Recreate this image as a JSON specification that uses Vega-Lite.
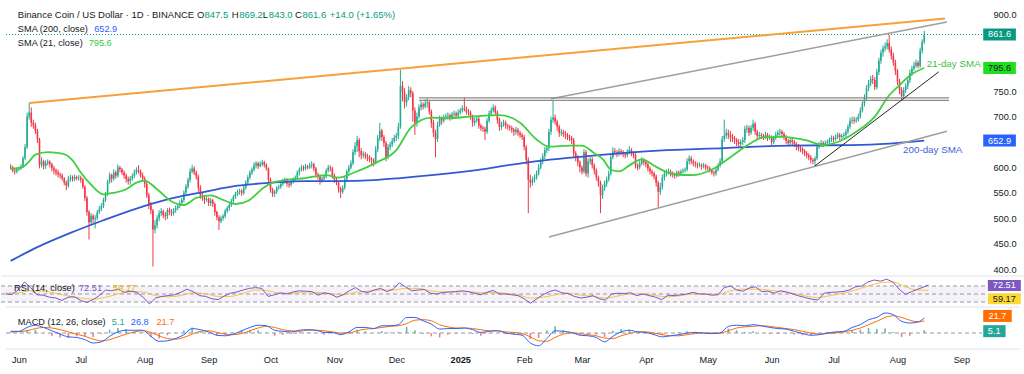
{
"$schema":"https://vega.github.io/schema/vega-lite/v6.json",
"background":"#ffffff",
"padding":0,
"spacing":0,
"config":{"view":{"stroke":null},"font":"Liberation Sans","concat":{"spacing":0},"axis":{"labelOverlap":false}},
"datasets":{
"candles":[
{"d":"2024-05-28","o":602,"h":606,"l":596,"c":600},{"d":"2024-05-29","o":600,"h":603,"l":590,"c":594},{"d":"2024-05-30","o":594,"h":598,"l":586,"c":592},{"d":"2024-05-31","o":592,"h":600,"l":588,"c":596},
{"d":"2024-06-01","o":596,"h":601,"l":593,"c":598},{"d":"2024-06-02","o":598,"h":606,"l":595,"c":602},{"d":"2024-06-03","o":602,"h":622,"l":599,"c":618},{"d":"2024-06-04","o":618,"h":646,"l":614,"c":640},{"d":"2024-06-05","o":640,"h":708,"l":636,"c":700},{"d":"2024-06-06","o":700,"h":727,"l":694,"c":708},{"d":"2024-06-07","o":708,"h":718,"l":680,"c":688},{"d":"2024-06-08","o":688,"h":694,"l":676,"c":683},{"d":"2024-06-09","o":683,"h":688,"l":666,"c":672},{"d":"2024-06-10","o":672,"h":676,"l":648,"c":655},{"d":"2024-06-11","o":655,"h":658,"l":598,"c":605},{"d":"2024-06-12","o":605,"h":620,"l":600,"c":612},{"d":"2024-06-13","o":612,"h":615,"l":596,"c":603},{"d":"2024-06-14","o":603,"h":614,"l":597,"c":608},{"d":"2024-06-15","o":608,"h":616,"l":604,"c":611},{"d":"2024-06-16","o":611,"h":614,"l":600,"c":606},{"d":"2024-06-17","o":606,"h":609,"l":592,"c":598},{"d":"2024-06-18","o":598,"h":603,"l":586,"c":594},{"d":"2024-06-19","o":594,"h":598,"l":584,"c":590},{"d":"2024-06-20","o":590,"h":596,"l":580,"c":586},{"d":"2024-06-21","o":586,"h":590,"l":578,"c":584},{"d":"2024-06-22","o":584,"h":588,"l":574,"c":578},{"d":"2024-06-23","o":578,"h":581,"l":565,"c":570},{"d":"2024-06-24","o":570,"h":574,"l":555,"c":564},{"d":"2024-06-25","o":564,"h":583,"l":560,"c":578},{"d":"2024-06-26","o":578,"h":585,"l":572,"c":580},{"d":"2024-06-27","o":580,"h":584,"l":572,"c":577},{"d":"2024-06-28","o":577,"h":586,"l":573,"c":581},{"d":"2024-06-29","o":581,"h":584,"l":575,"c":579},{"d":"2024-06-30","o":579,"h":585,"l":574,"c":580},
{"d":"2024-07-01","o":580,"h":584,"l":570,"c":576},{"d":"2024-07-02","o":576,"h":579,"l":558,"c":562},{"d":"2024-07-03","o":562,"h":565,"l":534,"c":540},{"d":"2024-07-04","o":540,"h":544,"l":505,"c":512},{"d":"2024-07-05","o":512,"h":516,"l":458,"c":492},{"d":"2024-07-06","o":492,"h":510,"l":486,"c":505},{"d":"2024-07-07","o":505,"h":508,"l":490,"c":498},{"d":"2024-07-08","o":498,"h":506,"l":480,"c":500},{"d":"2024-07-09","o":500,"h":516,"l":496,"c":512},{"d":"2024-07-10","o":512,"h":524,"l":508,"c":518},{"d":"2024-07-11","o":518,"h":530,"l":514,"c":524},{"d":"2024-07-12","o":524,"h":540,"l":520,"c":536},{"d":"2024-07-13","o":536,"h":552,"l":532,"c":548},{"d":"2024-07-14","o":548,"h":576,"l":544,"c":572},{"d":"2024-07-15","o":572,"h":590,"l":568,"c":585},{"d":"2024-07-16","o":585,"h":588,"l":570,"c":578},{"d":"2024-07-17","o":578,"h":596,"l":574,"c":590},{"d":"2024-07-18","o":590,"h":594,"l":578,"c":584},{"d":"2024-07-19","o":584,"h":606,"l":580,"c":600},{"d":"2024-07-20","o":600,"h":603,"l":590,"c":596},{"d":"2024-07-21","o":596,"h":599,"l":585,"c":590},{"d":"2024-07-22","o":590,"h":594,"l":578,"c":584},{"d":"2024-07-23","o":584,"h":588,"l":570,"c":577},{"d":"2024-07-24","o":577,"h":582,"l":566,"c":573},{"d":"2024-07-25","o":573,"h":583,"l":566,"c":578},{"d":"2024-07-26","o":578,"h":588,"l":574,"c":583},{"d":"2024-07-27","o":583,"h":596,"l":579,"c":590},{"d":"2024-07-28","o":590,"h":600,"l":586,"c":595},{"d":"2024-07-29","o":595,"h":604,"l":588,"c":592},{"d":"2024-07-30","o":592,"h":596,"l":580,"c":584},{"d":"2024-07-31","o":584,"h":590,"l":574,"c":578},
{"d":"2024-08-01","o":578,"h":582,"l":560,"c":568},{"d":"2024-08-02","o":568,"h":572,"l":540,"c":545},{"d":"2024-08-03","o":545,"h":550,"l":518,"c":525},{"d":"2024-08-04","o":525,"h":532,"l":508,"c":515},{"d":"2024-08-05","o":515,"h":518,"l":405,"c":478},{"d":"2024-08-06","o":478,"h":496,"l":470,"c":486},{"d":"2024-08-07","o":486,"h":506,"l":480,"c":500},{"d":"2024-08-08","o":500,"h":516,"l":494,"c":510},{"d":"2024-08-09","o":510,"h":520,"l":504,"c":514},{"d":"2024-08-10","o":514,"h":517,"l":500,"c":506},{"d":"2024-08-11","o":506,"h":512,"l":496,"c":504},{"d":"2024-08-12","o":504,"h":520,"l":498,"c":516},{"d":"2024-08-13","o":516,"h":521,"l":506,"c":512},{"d":"2024-08-14","o":512,"h":518,"l":504,"c":510},{"d":"2024-08-15","o":510,"h":520,"l":505,"c":515},{"d":"2024-08-16","o":515,"h":525,"l":511,"c":520},{"d":"2024-08-17","o":520,"h":528,"l":516,"c":524},{"d":"2024-08-18","o":524,"h":535,"l":520,"c":530},{"d":"2024-08-19","o":530,"h":540,"l":525,"c":536},{"d":"2024-08-20","o":536,"h":555,"l":531,"c":550},{"d":"2024-08-21","o":550,"h":567,"l":546,"c":562},{"d":"2024-08-22","o":562,"h":580,"l":558,"c":575},{"d":"2024-08-23","o":575,"h":598,"l":570,"c":592},{"d":"2024-08-24","o":592,"h":605,"l":588,"c":598},{"d":"2024-08-25","o":598,"h":602,"l":585,"c":590},{"d":"2024-08-26","o":590,"h":594,"l":576,"c":582},{"d":"2024-08-27","o":582,"h":586,"l":552,"c":560},{"d":"2024-08-28","o":560,"h":565,"l":538,"c":545},{"d":"2024-08-29","o":545,"h":550,"l":534,"c":540},{"d":"2024-08-30","o":540,"h":545,"l":528,"c":536},{"d":"2024-08-31","o":536,"h":543,"l":532,"c":538},
{"d":"2024-09-01","o":538,"h":541,"l":524,"c":530},{"d":"2024-09-02","o":530,"h":540,"l":524,"c":535},{"d":"2024-09-03","o":535,"h":538,"l":522,"c":528},{"d":"2024-09-04","o":528,"h":531,"l":505,"c":512},{"d":"2024-09-05","o":512,"h":515,"l":496,"c":502},{"d":"2024-09-06","o":502,"h":506,"l":477,"c":494},{"d":"2024-09-07","o":494,"h":505,"l":490,"c":500},{"d":"2024-09-08","o":500,"h":508,"l":495,"c":504},{"d":"2024-09-09","o":504,"h":518,"l":500,"c":514},{"d":"2024-09-10","o":514,"h":524,"l":510,"c":520},{"d":"2024-09-11","o":520,"h":530,"l":514,"c":526},{"d":"2024-09-12","o":526,"h":538,"l":522,"c":534},{"d":"2024-09-13","o":534,"h":546,"l":530,"c":542},{"d":"2024-09-14","o":542,"h":552,"l":538,"c":548},{"d":"2024-09-15","o":548,"h":556,"l":544,"c":552},{"d":"2024-09-16","o":552,"h":558,"l":546,"c":554},{"d":"2024-09-17","o":554,"h":557,"l":544,"c":550},{"d":"2024-09-18","o":550,"h":564,"l":546,"c":560},{"d":"2024-09-19","o":560,"h":575,"l":556,"c":570},{"d":"2024-09-20","o":570,"h":585,"l":566,"c":580},{"d":"2024-09-21","o":580,"h":594,"l":576,"c":590},{"d":"2024-09-22","o":590,"h":600,"l":585,"c":596},{"d":"2024-09-23","o":596,"h":610,"l":592,"c":604},{"d":"2024-09-24","o":604,"h":612,"l":598,"c":608},{"d":"2024-09-25","o":608,"h":611,"l":597,"c":603},{"d":"2024-09-26","o":603,"h":612,"l":600,"c":606},{"d":"2024-09-27","o":606,"h":615,"l":602,"c":610},{"d":"2024-09-28","o":610,"h":613,"l":600,"c":605},{"d":"2024-09-29","o":605,"h":608,"l":594,"c":598},{"d":"2024-09-30","o":598,"h":600,"l":570,"c":576},
{"d":"2024-10-01","o":576,"h":580,"l":550,"c":556},{"d":"2024-10-02","o":556,"h":560,"l":542,"c":548},{"d":"2024-10-03","o":548,"h":556,"l":542,"c":552},{"d":"2024-10-04","o":552,"h":563,"l":548,"c":560},{"d":"2024-10-05","o":560,"h":566,"l":556,"c":562},{"d":"2024-10-06","o":562,"h":572,"l":558,"c":568},{"d":"2024-10-07","o":568,"h":578,"l":564,"c":572},{"d":"2024-10-08","o":572,"h":580,"l":568,"c":576},{"d":"2024-10-09","o":576,"h":579,"l":562,"c":568},{"d":"2024-10-10","o":568,"h":572,"l":560,"c":566},{"d":"2024-10-11","o":566,"h":576,"l":562,"c":572},{"d":"2024-10-12","o":572,"h":580,"l":568,"c":576},{"d":"2024-10-13","o":576,"h":584,"l":572,"c":580},{"d":"2024-10-14","o":580,"h":594,"l":576,"c":590},{"d":"2024-10-15","o":590,"h":600,"l":584,"c":596},{"d":"2024-10-16","o":596,"h":605,"l":592,"c":600},{"d":"2024-10-17","o":600,"h":604,"l":593,"c":598},{"d":"2024-10-18","o":598,"h":607,"l":594,"c":602},{"d":"2024-10-19","o":602,"h":605,"l":596,"c":600},{"d":"2024-10-20","o":600,"h":609,"l":597,"c":604},{"d":"2024-10-21","o":604,"h":612,"l":598,"c":606},{"d":"2024-10-22","o":606,"h":609,"l":592,"c":598},{"d":"2024-10-23","o":598,"h":601,"l":580,"c":586},{"d":"2024-10-24","o":586,"h":590,"l":576,"c":582},{"d":"2024-10-25","o":582,"h":586,"l":566,"c":574},{"d":"2024-10-26","o":574,"h":582,"l":570,"c":578},{"d":"2024-10-27","o":578,"h":586,"l":574,"c":582},{"d":"2024-10-28","o":582,"h":598,"l":578,"c":594},{"d":"2024-10-29","o":594,"h":605,"l":590,"c":600},{"d":"2024-10-30","o":600,"h":604,"l":592,"c":598},{"d":"2024-10-31","o":598,"h":601,"l":578,"c":584},
{"d":"2024-11-01","o":584,"h":588,"l":570,"c":576},{"d":"2024-11-02","o":576,"h":580,"l":565,"c":570},{"d":"2024-11-03","o":570,"h":573,"l":550,"c":558},{"d":"2024-11-04","o":558,"h":562,"l":540,"c":552},{"d":"2024-11-05","o":552,"h":565,"l":548,"c":560},{"d":"2024-11-06","o":560,"h":582,"l":556,"c":576},{"d":"2024-11-07","o":576,"h":596,"l":572,"c":592},{"d":"2024-11-08","o":592,"h":605,"l":588,"c":600},{"d":"2024-11-09","o":600,"h":614,"l":596,"c":608},{"d":"2024-11-10","o":608,"h":636,"l":604,"c":630},{"d":"2024-11-11","o":630,"h":650,"l":624,"c":642},{"d":"2024-11-12","o":642,"h":662,"l":630,"c":654},{"d":"2024-11-13","o":654,"h":658,"l":620,"c":632},{"d":"2024-11-14","o":632,"h":638,"l":616,"c":624},{"d":"2024-11-15","o":624,"h":632,"l":618,"c":626},{"d":"2024-11-16","o":626,"h":630,"l":616,"c":622},{"d":"2024-11-17","o":622,"h":627,"l":612,"c":620},{"d":"2024-11-18","o":620,"h":624,"l":610,"c":616},{"d":"2024-11-19","o":616,"h":620,"l":606,"c":614},{"d":"2024-11-20","o":614,"h":618,"l":602,"c":610},{"d":"2024-11-21","o":610,"h":642,"l":606,"c":636},{"d":"2024-11-22","o":636,"h":664,"l":630,"c":658},{"d":"2024-11-23","o":658,"h":688,"l":652,"c":672},{"d":"2024-11-24","o":672,"h":676,"l":652,"c":660},{"d":"2024-11-25","o":660,"h":664,"l":640,"c":648},{"d":"2024-11-26","o":648,"h":652,"l":612,"c":620},{"d":"2024-11-27","o":620,"h":646,"l":616,"c":640},{"d":"2024-11-28","o":640,"h":650,"l":634,"c":645},{"d":"2024-11-29","o":645,"h":658,"l":640,"c":652},{"d":"2024-11-30","o":652,"h":664,"l":648,"c":658},
{"d":"2024-12-01","o":658,"h":668,"l":652,"c":662},{"d":"2024-12-02","o":662,"h":688,"l":656,"c":680},{"d":"2024-12-03","o":680,"h":793,"l":676,"c":760},{"d":"2024-12-04","o":760,"h":770,"l":730,"c":748},{"d":"2024-12-05","o":748,"h":756,"l":716,"c":728},{"d":"2024-12-06","o":728,"h":744,"l":720,"c":738},{"d":"2024-12-07","o":738,"h":760,"l":732,"c":752},{"d":"2024-12-08","o":752,"h":758,"l":738,"c":746},{"d":"2024-12-09","o":746,"h":750,"l":690,"c":712},{"d":"2024-12-10","o":712,"h":718,"l":664,"c":688},{"d":"2024-12-11","o":688,"h":708,"l":680,"c":700},{"d":"2024-12-12","o":700,"h":724,"l":696,"c":718},{"d":"2024-12-13","o":718,"h":730,"l":712,"c":724},{"d":"2024-12-14","o":724,"h":728,"l":714,"c":720},{"d":"2024-12-15","o":720,"h":734,"l":716,"c":726},{"d":"2024-12-16","o":726,"h":736,"l":718,"c":728},{"d":"2024-12-17","o":728,"h":732,"l":704,"c":710},{"d":"2024-12-18","o":710,"h":714,"l":678,"c":688},{"d":"2024-12-19","o":688,"h":694,"l":660,"c":668},{"d":"2024-12-20","o":668,"h":674,"l":620,"c":656},{"d":"2024-12-21","o":656,"h":690,"l":650,"c":684},{"d":"2024-12-22","o":684,"h":702,"l":680,"c":696},{"d":"2024-12-23","o":696,"h":700,"l":684,"c":692},{"d":"2024-12-24","o":692,"h":704,"l":688,"c":698},{"d":"2024-12-25","o":698,"h":706,"l":694,"c":700},{"d":"2024-12-26","o":700,"h":708,"l":694,"c":702},{"d":"2024-12-27","o":702,"h":706,"l":692,"c":698},{"d":"2024-12-28","o":698,"h":709,"l":694,"c":704},{"d":"2024-12-29","o":704,"h":712,"l":698,"c":706},{"d":"2024-12-30","o":706,"h":710,"l":696,"c":702},{"d":"2024-12-31","o":702,"h":714,"l":698,"c":708},
{"d":"2025-01-01","o":708,"h":717,"l":704,"c":712},{"d":"2025-01-02","o":712,"h":722,"l":708,"c":716},{"d":"2025-01-03","o":716,"h":738,"l":710,"c":714},{"d":"2025-01-04","o":714,"h":720,"l":704,"c":710},{"d":"2025-01-05","o":710,"h":715,"l":702,"c":708},{"d":"2025-01-06","o":708,"h":712,"l":694,"c":700},{"d":"2025-01-07","o":700,"h":704,"l":680,"c":688},{"d":"2025-01-08","o":688,"h":698,"l":682,"c":692},{"d":"2025-01-09","o":692,"h":702,"l":688,"c":696},{"d":"2025-01-10","o":696,"h":700,"l":676,"c":682},{"d":"2025-01-11","o":682,"h":686,"l":672,"c":678},{"d":"2025-01-12","o":678,"h":682,"l":670,"c":676},{"d":"2025-01-13","o":676,"h":680,"l":654,"c":670},{"d":"2025-01-14","o":670,"h":697,"l":666,"c":692},{"d":"2025-01-15","o":692,"h":712,"l":688,"c":706},{"d":"2025-01-16","o":706,"h":718,"l":702,"c":712},{"d":"2025-01-17","o":712,"h":724,"l":708,"c":718},{"d":"2025-01-18","o":718,"h":722,"l":702,"c":708},{"d":"2025-01-19","o":708,"h":712,"l":686,"c":694},{"d":"2025-01-20","o":694,"h":698,"l":672,"c":680},{"d":"2025-01-21","o":680,"h":690,"l":674,"c":684},{"d":"2025-01-22","o":684,"h":694,"l":680,"c":688},{"d":"2025-01-23","o":688,"h":692,"l":676,"c":682},{"d":"2025-01-24","o":682,"h":686,"l":674,"c":680},{"d":"2025-01-25","o":680,"h":684,"l":672,"c":678},{"d":"2025-01-26","o":678,"h":682,"l":668,"c":674},{"d":"2025-01-27","o":674,"h":678,"l":662,"c":670},{"d":"2025-01-28","o":670,"h":680,"l":664,"c":674},{"d":"2025-01-29","o":674,"h":678,"l":662,"c":668},{"d":"2025-01-30","o":668,"h":672,"l":658,"c":664},{"d":"2025-01-31","o":664,"h":668,"l":654,"c":660},
{"d":"2025-02-01","o":660,"h":664,"l":634,"c":640},{"d":"2025-02-02","o":640,"h":644,"l":606,"c":615},{"d":"2025-02-03","o":615,"h":620,"l":510,"c":576},{"d":"2025-02-04","o":576,"h":586,"l":560,"c":570},{"d":"2025-02-05","o":570,"h":582,"l":564,"c":575},{"d":"2025-02-06","o":575,"h":586,"l":570,"c":580},{"d":"2025-02-07","o":580,"h":594,"l":576,"c":588},{"d":"2025-02-08","o":588,"h":606,"l":584,"c":600},{"d":"2025-02-09","o":600,"h":618,"l":596,"c":612},{"d":"2025-02-10","o":612,"h":628,"l":606,"c":622},{"d":"2025-02-11","o":622,"h":640,"l":616,"c":634},{"d":"2025-02-12","o":634,"h":644,"l":628,"c":638},{"d":"2025-02-13","o":638,"h":676,"l":632,"c":670},{"d":"2025-02-14","o":670,"h":700,"l":664,"c":694},{"d":"2025-02-15","o":694,"h":733,"l":688,"c":698},{"d":"2025-02-16","o":698,"h":704,"l":684,"c":690},{"d":"2025-02-17","o":690,"h":694,"l":672,"c":680},{"d":"2025-02-18","o":680,"h":684,"l":660,"c":668},{"d":"2025-02-19","o":668,"h":676,"l":662,"c":670},{"d":"2025-02-20","o":670,"h":674,"l":660,"c":666},{"d":"2025-02-21","o":666,"h":672,"l":656,"c":664},{"d":"2025-02-22","o":664,"h":668,"l":654,"c":660},{"d":"2025-02-23","o":660,"h":664,"l":652,"c":658},{"d":"2025-02-24","o":658,"h":662,"l":646,"c":654},{"d":"2025-02-25","o":654,"h":658,"l":620,"c":628},{"d":"2025-02-26","o":628,"h":632,"l":612,"c":620},{"d":"2025-02-27","o":620,"h":624,"l":602,"c":610},{"d":"2025-02-28","o":610,"h":614,"l":590,"c":600},
{"d":"2025-03-01","o":600,"h":604,"l":586,"c":592},{"d":"2025-03-02","o":592,"h":636,"l":588,"c":630},{"d":"2025-03-03","o":630,"h":634,"l":582,"c":588},{"d":"2025-03-04","o":588,"h":618,"l":580,"c":612},{"d":"2025-03-05","o":612,"h":622,"l":606,"c":616},{"d":"2025-03-06","o":616,"h":620,"l":598,"c":604},{"d":"2025-03-07","o":604,"h":608,"l":586,"c":594},{"d":"2025-03-08","o":594,"h":598,"l":574,"c":580},{"d":"2025-03-09","o":580,"h":584,"l":562,"c":570},{"d":"2025-03-10","o":570,"h":574,"l":510,"c":545},{"d":"2025-03-11","o":545,"h":566,"l":538,"c":560},{"d":"2025-03-12","o":560,"h":574,"l":554,"c":568},{"d":"2025-03-13","o":568,"h":582,"l":562,"c":576},{"d":"2025-03-14","o":576,"h":594,"l":572,"c":588},{"d":"2025-03-15","o":588,"h":626,"l":584,"c":620},{"d":"2025-03-16","o":620,"h":640,"l":616,"c":632},{"d":"2025-03-17","o":632,"h":638,"l":624,"c":630},{"d":"2025-03-18","o":630,"h":634,"l":620,"c":628},{"d":"2025-03-19","o":628,"h":638,"l":622,"c":632},{"d":"2025-03-20","o":632,"h":636,"l":624,"c":630},{"d":"2025-03-21","o":630,"h":634,"l":620,"c":626},{"d":"2025-03-22","o":626,"h":630,"l":618,"c":624},{"d":"2025-03-23","o":624,"h":636,"l":620,"c":630},{"d":"2025-03-24","o":630,"h":642,"l":626,"c":634},{"d":"2025-03-25","o":634,"h":638,"l":622,"c":628},{"d":"2025-03-26","o":628,"h":632,"l":618,"c":624},{"d":"2025-03-27","o":624,"h":628,"l":598,"c":604},{"d":"2025-03-28","o":604,"h":608,"l":594,"c":600},{"d":"2025-03-29","o":600,"h":614,"l":596,"c":608},{"d":"2025-03-30","o":608,"h":620,"l":604,"c":614},{"d":"2025-03-31","o":614,"h":618,"l":604,"c":610},
{"d":"2025-04-01","o":610,"h":614,"l":600,"c":606},{"d":"2025-04-02","o":606,"h":610,"l":592,"c":598},{"d":"2025-04-03","o":598,"h":602,"l":586,"c":592},{"d":"2025-04-04","o":592,"h":596,"l":582,"c":588},{"d":"2025-04-05","o":588,"h":592,"l":576,"c":582},{"d":"2025-04-06","o":582,"h":586,"l":562,"c":570},{"d":"2025-04-07","o":570,"h":574,"l":522,"c":552},{"d":"2025-04-08","o":552,"h":570,"l":546,"c":562},{"d":"2025-04-09","o":562,"h":586,"l":556,"c":580},{"d":"2025-04-10","o":580,"h":594,"l":574,"c":588},{"d":"2025-04-11","o":588,"h":596,"l":582,"c":590},{"d":"2025-04-12","o":590,"h":598,"l":586,"c":592},{"d":"2025-04-13","o":592,"h":596,"l":582,"c":588},{"d":"2025-04-14","o":588,"h":592,"l":580,"c":586},{"d":"2025-04-15","o":586,"h":590,"l":578,"c":584},{"d":"2025-04-16","o":584,"h":594,"l":580,"c":590},{"d":"2025-04-17","o":590,"h":594,"l":582,"c":588},{"d":"2025-04-18","o":588,"h":596,"l":584,"c":592},{"d":"2025-04-19","o":592,"h":598,"l":588,"c":594},{"d":"2025-04-20","o":594,"h":600,"l":590,"c":596},{"d":"2025-04-21","o":596,"h":618,"l":592,"c":612},{"d":"2025-04-22","o":612,"h":624,"l":606,"c":618},{"d":"2025-04-23","o":618,"h":622,"l":606,"c":612},{"d":"2025-04-24","o":612,"h":616,"l":602,"c":608},{"d":"2025-04-25","o":608,"h":612,"l":600,"c":606},{"d":"2025-04-26","o":606,"h":610,"l":598,"c":604},{"d":"2025-04-27","o":604,"h":610,"l":600,"c":605},{"d":"2025-04-28","o":605,"h":608,"l":596,"c":602},{"d":"2025-04-29","o":602,"h":609,"l":598,"c":604},{"d":"2025-04-30","o":604,"h":607,"l":594,"c":600},
{"d":"2025-05-01","o":600,"h":604,"l":594,"c":598},{"d":"2025-05-02","o":598,"h":602,"l":590,"c":594},{"d":"2025-05-03","o":594,"h":597,"l":586,"c":590},{"d":"2025-05-04","o":590,"h":594,"l":582,"c":588},{"d":"2025-05-05","o":588,"h":600,"l":584,"c":596},{"d":"2025-05-06","o":596,"h":608,"l":592,"c":604},{"d":"2025-05-07","o":604,"h":618,"l":600,"c":612},{"d":"2025-05-08","o":612,"h":662,"l":608,"c":656},{"d":"2025-05-09","o":656,"h":694,"l":650,"c":662},{"d":"2025-05-10","o":662,"h":676,"l":656,"c":668},{"d":"2025-05-11","o":668,"h":674,"l":656,"c":664},{"d":"2025-05-12","o":664,"h":672,"l":650,"c":660},{"d":"2025-05-13","o":660,"h":666,"l":650,"c":658},{"d":"2025-05-14","o":658,"h":662,"l":646,"c":654},{"d":"2025-05-15","o":654,"h":658,"l":642,"c":650},{"d":"2025-05-16","o":650,"h":656,"l":640,"c":646},{"d":"2025-05-17","o":646,"h":655,"l":640,"c":650},{"d":"2025-05-18","o":650,"h":660,"l":644,"c":654},{"d":"2025-05-19","o":654,"h":682,"l":648,"c":676},{"d":"2025-05-20","o":676,"h":684,"l":668,"c":678},{"d":"2025-05-21","o":678,"h":682,"l":662,"c":668},{"d":"2025-05-22","o":668,"h":684,"l":664,"c":678},{"d":"2025-05-23","o":678,"h":694,"l":672,"c":686},{"d":"2025-05-24","o":686,"h":690,"l":664,"c":670},{"d":"2025-05-25","o":670,"h":674,"l":656,"c":662},{"d":"2025-05-26","o":662,"h":670,"l":656,"c":664},{"d":"2025-05-27","o":664,"h":668,"l":656,"c":662},{"d":"2025-05-28","o":662,"h":666,"l":654,"c":660},{"d":"2025-05-29","o":660,"h":670,"l":656,"c":664},{"d":"2025-05-30","o":664,"h":668,"l":652,"c":658},{"d":"2025-05-31","o":658,"h":665,"l":654,"c":660},
{"d":"2025-06-01","o":660,"h":663,"l":644,"c":650},{"d":"2025-06-02","o":650,"h":662,"l":646,"c":658},{"d":"2025-06-03","o":658,"h":670,"l":654,"c":664},{"d":"2025-06-04","o":664,"h":673,"l":660,"c":668},{"d":"2025-06-05","o":668,"h":676,"l":662,"c":670},{"d":"2025-06-06","o":670,"h":674,"l":660,"c":666},{"d":"2025-06-07","o":666,"h":670,"l":654,"c":660},{"d":"2025-06-08","o":660,"h":664,"l":646,"c":652},{"d":"2025-06-09","o":652,"h":656,"l":642,"c":648},{"d":"2025-06-10","o":648,"h":660,"l":644,"c":654},{"d":"2025-06-11","o":654,"h":658,"l":644,"c":650},{"d":"2025-06-12","o":650,"h":654,"l":640,"c":646},{"d":"2025-06-13","o":646,"h":650,"l":634,"c":642},{"d":"2025-06-14","o":642,"h":646,"l":632,"c":638},{"d":"2025-06-15","o":638,"h":642,"l":630,"c":636},{"d":"2025-06-16","o":636,"h":640,"l":626,"c":632},{"d":"2025-06-17","o":632,"h":636,"l":622,"c":628},{"d":"2025-06-18","o":628,"h":632,"l":618,"c":624},{"d":"2025-06-19","o":624,"h":628,"l":614,"c":620},{"d":"2025-06-20","o":620,"h":624,"l":608,"c":615},{"d":"2025-06-21","o":615,"h":618,"l":606,"c":612},{"d":"2025-06-22","o":612,"h":622,"l":603,"c":618},{"d":"2025-06-23","o":618,"h":646,"l":614,"c":640},{"d":"2025-06-24","o":640,"h":650,"l":636,"c":644},{"d":"2025-06-25","o":644,"h":654,"l":640,"c":648},{"d":"2025-06-26","o":648,"h":652,"l":640,"c":646},{"d":"2025-06-27","o":646,"h":653,"l":642,"c":648},{"d":"2025-06-28","o":648,"h":655,"l":644,"c":650},{"d":"2025-06-29","o":650,"h":659,"l":646,"c":654},{"d":"2025-06-30","o":654,"h":663,"l":650,"c":658},
{"d":"2025-07-01","o":658,"h":662,"l":650,"c":656},{"d":"2025-07-02","o":656,"h":665,"l":652,"c":660},{"d":"2025-07-03","o":660,"h":669,"l":656,"c":664},{"d":"2025-07-04","o":664,"h":668,"l":654,"c":660},{"d":"2025-07-05","o":660,"h":666,"l":656,"c":662},{"d":"2025-07-06","o":662,"h":669,"l":658,"c":664},{"d":"2025-07-07","o":664,"h":675,"l":660,"c":670},{"d":"2025-07-08","o":670,"h":685,"l":666,"c":680},{"d":"2025-07-09","o":680,"h":698,"l":676,"c":692},{"d":"2025-07-10","o":692,"h":700,"l":686,"c":694},{"d":"2025-07-11","o":694,"h":700,"l":686,"c":692},{"d":"2025-07-12","o":692,"h":699,"l":688,"c":694},{"d":"2025-07-13","o":694,"h":706,"l":690,"c":700},{"d":"2025-07-14","o":700,"h":718,"l":696,"c":712},{"d":"2025-07-15","o":712,"h":732,"l":708,"c":726},{"d":"2025-07-16","o":726,"h":744,"l":720,"c":738},{"d":"2025-07-17","o":738,"h":762,"l":732,"c":756},{"d":"2025-07-18","o":756,"h":772,"l":750,"c":766},{"d":"2025-07-19","o":766,"h":780,"l":760,"c":774},{"d":"2025-07-20","o":774,"h":782,"l":764,"c":772},{"d":"2025-07-21","o":772,"h":778,"l":752,"c":758},{"d":"2025-07-22","o":758,"h":794,"l":754,"c":788},{"d":"2025-07-23","o":788,"h":816,"l":782,"c":810},{"d":"2025-07-24","o":810,"h":832,"l":804,"c":826},{"d":"2025-07-25","o":826,"h":840,"l":818,"c":834},{"d":"2025-07-26","o":834,"h":846,"l":828,"c":838},{"d":"2025-07-27","o":838,"h":852,"l":832,"c":845},{"d":"2025-07-28","o":845,"h":861,"l":826,"c":832},{"d":"2025-07-29","o":832,"h":838,"l":812,"c":820},{"d":"2025-07-30","o":820,"h":826,"l":800,"c":806},{"d":"2025-07-31","o":806,"h":812,"l":782,"c":790},
{"d":"2025-08-01","o":790,"h":794,"l":762,"c":770},{"d":"2025-08-02","o":770,"h":774,"l":744,"c":752},{"d":"2025-08-03","o":752,"h":758,"l":732,"c":740},{"d":"2025-08-04","o":740,"h":758,"l":734,"c":752},{"d":"2025-08-05","o":752,"h":766,"l":746,"c":760},{"d":"2025-08-06","o":760,"h":778,"l":754,"c":772},{"d":"2025-08-07","o":772,"h":792,"l":766,"c":786},{"d":"2025-08-08","o":786,"h":800,"l":780,"c":794},{"d":"2025-08-09","o":794,"h":808,"l":790,"c":800},{"d":"2025-08-10","o":800,"h":812,"l":796,"c":806},{"d":"2025-08-11","o":806,"h":810,"l":795,"c":800},{"d":"2025-08-12","o":800,"h":836,"l":796,"c":830},{"d":"2025-08-13","o":830,"h":852,"l":824,"c":847.5},{"d":"2025-08-14","o":847.5,"h":869.2,"l":843,"c":861.6}
],
"sma21":[{"d":"2024-05-28","v":597},{"d":"2024-06-03","v":601},{"d":"2024-06-06","v":612},{"d":"2024-06-09","v":625},{"d":"2024-06-15","v":630},{"d":"2024-06-22","v":627},{"d":"2024-06-27","v":614},{"d":"2024-07-01","v":590},{"d":"2024-07-06","v":566},{"d":"2024-07-12","v":547},{"d":"2024-07-17","v":550},{"d":"2024-07-23","v":557},{"d":"2024-07-28","v":570},{"d":"2024-08-01","v":574},{"d":"2024-08-07","v":557},{"d":"2024-08-14","v":533},{"d":"2024-08-20","v":526},{"d":"2024-08-26","v":540},{"d":"2024-09-02","v":545},{"d":"2024-09-08","v":536},{"d":"2024-09-14","v":528},{"d":"2024-09-20","v":534},{"d":"2024-09-28","v":561},{"d":"2024-10-02","v":570},{"d":"2024-10-08","v":575},{"d":"2024-10-18","v":579},{"d":"2024-10-28","v":585},{"d":"2024-11-03","v":580},{"d":"2024-11-10","v":589},{"d":"2024-11-21","v":609},{"d":"2024-12-01","v":634},{"d":"2024-12-08","v":678},{"d":"2024-12-18","v":698},{"d":"2024-12-26","v":697},{"d":"2025-01-06","v":700},{"d":"2025-01-20","v":703},{"d":"2025-01-30","v":688},{"d":"2025-02-07","v":655},{"d":"2025-02-13","v":641},{"d":"2025-02-23","v":643},{"d":"2025-03-01","v":643},{"d":"2025-03-07","v":628},{"d":"2025-03-11","v":617},{"d":"2025-03-15","v":596},{"d":"2025-03-19","v":592},{"d":"2025-03-24","v":604},{"d":"2025-03-30","v":616},{"d":"2025-04-06","v":601},{"d":"2025-04-15","v":586},{"d":"2025-04-24","v":585},{"d":"2025-05-04","v":598},{"d":"2025-05-12","v":620},{"d":"2025-05-22","v":648},{"d":"2025-05-28","v":659},{"d":"2025-06-06","v":660},{"d":"2025-06-18","v":653},{"d":"2025-06-26","v":644},{"d":"2025-07-03","v":650},{"d":"2025-07-12","v":670},{"d":"2025-07-21","v":700},{"d":"2025-07-28","v":742},{"d":"2025-08-02","v":762},{"d":"2025-08-07","v":781},{"d":"2025-08-14","v":795.6}],
"sma200":[{"d":"2024-05-28","v":416},{"d":"2024-06-10","v":443},{"d":"2024-06-26","v":471},{"d":"2024-07-12","v":496},{"d":"2024-07-28","v":519},{"d":"2024-08-14","v":539},{"d":"2024-08-30","v":552},{"d":"2024-09-15","v":564},{"d":"2024-10-02","v":570},{"d":"2024-10-18","v":573},{"d":"2024-11-03","v":573},{"d":"2024-11-20","v":575},{"d":"2024-12-03","v":579},{"d":"2025-01-02","v":591},{"d":"2025-02-03","v":610},{"d":"2025-03-09","v":624},{"d":"2025-04-07","v":633},{"d":"2025-05-09","v":638},{"d":"2025-06-10","v":643},{"d":"2025-07-10","v":644},{"d":"2025-07-28","v":647},{"d":"2025-08-14","v":652.9}],
"trend":[{"line":"res","d":"2024-06-06","p":727},{"line":"res","d":"2025-08-24","p":893},{"line":"chU","d":"2025-02-14","p":735},{"line":"chU","d":"2025-08-25","p":886},{"line":"chL","d":"2025-02-13","p":463},{"line":"chL","d":"2025-08-25","p":671},{"line":"h1","d":"2024-12-12","p":737},{"line":"h1","d":"2025-08-26","p":737},{"line":"h2","d":"2024-12-12","p":732},{"line":"h2","d":"2025-08-26","p":732},{"line":"sup","d":"2025-06-22","p":603},{"line":"sup","d":"2025-08-21","p":788}],
"rsi":[{"d":"2024-05-28","v":50},{"d":"2024-05-31","v":49},{"d":"2024-06-03","v":60},{"d":"2024-06-06","v":80},{"d":"2024-06-09","v":66},{"d":"2024-06-12","v":48},{"d":"2024-06-15","v":47},{"d":"2024-06-18","v":42},{"d":"2024-06-21","v":40},{"d":"2024-06-24","v":34},{"d":"2024-06-27","v":42},{"d":"2024-06-30","v":43},{"d":"2024-07-03","v":34},{"d":"2024-07-06","v":29},{"d":"2024-07-09","v":36},{"d":"2024-07-12","v":46},{"d":"2024-07-15","v":60},{"d":"2024-07-18","v":58},{"d":"2024-07-21","v":62},{"d":"2024-07-24","v":54},{"d":"2024-07-27","v":57},{"d":"2024-07-30","v":54},{"d":"2024-08-02","v":42},{"d":"2024-08-05","v":25},{"d":"2024-08-08","v":40},{"d":"2024-08-11","v":44},{"d":"2024-08-14","v":46},{"d":"2024-08-17","v":48},{"d":"2024-08-20","v":54},{"d":"2024-08-23","v":62},{"d":"2024-08-26","v":56},{"d":"2024-08-29","v":46},{"d":"2024-09-01","v":44},{"d":"2024-09-04","v":38},{"d":"2024-09-07","v":36},{"d":"2024-09-10","v":45},{"d":"2024-09-13","v":52},{"d":"2024-09-16","v":55},{"d":"2024-09-19","v":60},{"d":"2024-09-22","v":64},{"d":"2024-09-25","v":66},{"d":"2024-09-28","v":64},{"d":"2024-10-01","v":44},{"d":"2024-10-04","v":48},{"d":"2024-10-07","v":53},{"d":"2024-10-10","v":50},{"d":"2024-10-13","v":55},{"d":"2024-10-16","v":58},{"d":"2024-10-19","v":57},{"d":"2024-10-22","v":56},{"d":"2024-10-25","v":47},{"d":"2024-10-28","v":53},{"d":"2024-10-31","v":50},{"d":"2024-11-03","v":42},{"d":"2024-11-06","v":48},{"d":"2024-11-09","v":58},{"d":"2024-11-12","v":66},{"d":"2024-11-15","v":56},{"d":"2024-11-18","v":54},{"d":"2024-11-21","v":60},{"d":"2024-11-24","v":64},{"d":"2024-11-27","v":56},{"d":"2024-11-30","v":62},{"d":"2024-12-03","v":78},{"d":"2024-12-06","v":68},{"d":"2024-12-09","v":58},{"d":"2024-12-12","v":60},{"d":"2024-12-15","v":61},{"d":"2024-12-18","v":52},{"d":"2024-12-21","v":50},{"d":"2024-12-24","v":54},{"d":"2024-12-27","v":55},{"d":"2024-12-30","v":56},{"d":"2025-01-02","v":58},{"d":"2025-01-05","v":56},{"d":"2025-01-08","v":52},{"d":"2025-01-11","v":48},{"d":"2025-01-14","v":54},{"d":"2025-01-17","v":59},{"d":"2025-01-20","v":50},{"d":"2025-01-23","v":50},{"d":"2025-01-26","v":48},{"d":"2025-01-29","v":46},{"d":"2025-02-01","v":38},{"d":"2025-02-04","v":27},{"d":"2025-02-07","v":38},{"d":"2025-02-10","v":48},{"d":"2025-02-13","v":56},{"d":"2025-02-16","v":60},{"d":"2025-02-19","v":53},{"d":"2025-02-22","v":51},{"d":"2025-02-25","v":44},{"d":"2025-02-28","v":40},{"d":"2025-03-03","v":42},{"d":"2025-03-06","v":46},{"d":"2025-03-09","v":38},{"d":"2025-03-12","v":35},{"d":"2025-03-15","v":50},{"d":"2025-03-18","v":52},{"d":"2025-03-21","v":51},{"d":"2025-03-24","v":53},{"d":"2025-03-27","v":46},{"d":"2025-03-30","v":50},{"d":"2025-04-02","v":46},{"d":"2025-04-05","v":42},{"d":"2025-04-08","v":36},{"d":"2025-04-11","v":47},{"d":"2025-04-14","v":46},{"d":"2025-04-17","v":48},{"d":"2025-04-20","v":50},{"d":"2025-04-23","v":54},{"d":"2025-04-26","v":50},{"d":"2025-04-29","v":50},{"d":"2025-05-02","v":47},{"d":"2025-05-05","v":48},{"d":"2025-05-08","v":66},{"d":"2025-05-11","v":70},{"d":"2025-05-14","v":60},{"d":"2025-05-17","v":57},{"d":"2025-05-20","v":65},{"d":"2025-05-23","v":68},{"d":"2025-05-26","v":56},{"d":"2025-05-29","v":57},{"d":"2025-06-01","v":52},{"d":"2025-06-04","v":58},{"d":"2025-06-07","v":55},{"d":"2025-06-10","v":50},{"d":"2025-06-13","v":45},{"d":"2025-06-16","v":41},{"d":"2025-06-19","v":37},{"d":"2025-06-22","v":35},{"d":"2025-06-25","v":52},{"d":"2025-06-28","v":54},{"d":"2025-07-01","v":55},{"d":"2025-07-04","v":56},{"d":"2025-07-07","v":60},{"d":"2025-07-10","v":68},{"d":"2025-07-13","v":70},{"d":"2025-07-16","v":80},{"d":"2025-07-19","v":85},{"d":"2025-07-22","v":82},{"d":"2025-07-25","v":87},{"d":"2025-07-28","v":80},{"d":"2025-07-31","v":62},{"d":"2025-08-03","v":49},{"d":"2025-08-06","v":56},{"d":"2025-08-09","v":62},{"d":"2025-08-12","v":68},{"d":"2025-08-14","v":72.51}],
"rsima":[{"d":"2024-05-28","v":52},{"d":"2024-06-03","v":53},{"d":"2024-06-09","v":58},{"d":"2024-06-15","v":57},{"d":"2024-06-21","v":52},{"d":"2024-06-27","v":45},{"d":"2024-07-03","v":40},{"d":"2024-07-09","v":37},{"d":"2024-07-15","v":42},{"d":"2024-07-21","v":50},{"d":"2024-07-27","v":56},{"d":"2024-08-02","v":55},{"d":"2024-08-08","v":46},{"d":"2024-08-14","v":43},{"d":"2024-08-20","v":46},{"d":"2024-08-26","v":53},{"d":"2024-09-01","v":51},{"d":"2024-09-07","v":44},{"d":"2024-09-13","v":44},{"d":"2024-09-19","v":52},{"d":"2024-09-25","v":60},{"d":"2024-10-01","v":58},{"d":"2024-10-07","v":52},{"d":"2024-10-13","v":52},{"d":"2024-10-19","v":55},{"d":"2024-10-25","v":54},{"d":"2024-10-31","v":51},{"d":"2024-11-06","v":48},{"d":"2024-11-12","v":54},{"d":"2024-11-18","v":57},{"d":"2024-11-24","v":60},{"d":"2024-11-30","v":60},{"d":"2024-12-06","v":64},{"d":"2024-12-12","v":64},{"d":"2024-12-18","v":58},{"d":"2024-12-24","v":55},{"d":"2024-12-30","v":55},{"d":"2025-01-05","v":56},{"d":"2025-01-11","v":53},{"d":"2025-01-17","v":54},{"d":"2025-01-23","v":52},{"d":"2025-01-29","v":48},{"d":"2025-02-04","v":40},{"d":"2025-02-10","v":42},{"d":"2025-02-16","v":48},{"d":"2025-02-22","v":52},{"d":"2025-02-28","v":47},{"d":"2025-03-06","v":44},{"d":"2025-03-12","v":40},{"d":"2025-03-18","v":45},{"d":"2025-03-24","v":50},{"d":"2025-03-30","v":50},{"d":"2025-04-05","v":46},{"d":"2025-04-11","v":43},{"d":"2025-04-17","v":46},{"d":"2025-04-23","v":50},{"d":"2025-04-29","v":50},{"d":"2025-05-05","v":49},{"d":"2025-05-11","v":58},{"d":"2025-05-17","v":62},{"d":"2025-05-23","v":62},{"d":"2025-05-29","v":60},{"d":"2025-06-04","v":56},{"d":"2025-06-10","v":52},{"d":"2025-06-16","v":45},{"d":"2025-06-22","v":41},{"d":"2025-06-28","v":46},{"d":"2025-07-04","v":52},{"d":"2025-07-10","v":60},{"d":"2025-07-16","v":70},{"d":"2025-07-22","v":78},{"d":"2025-07-28","v":80},{"d":"2025-08-03","v":68},{"d":"2025-08-09","v":60},{"d":"2025-08-14","v":59.17}],
"macd":[{"d":"2024-05-28","m":3,"s":2,"h":1},{"d":"2024-06-01","m":3,"s":2.5,"h":0.5},{"d":"2024-06-05","m":10,"s":4,"h":6},{"d":"2024-06-09","m":14,"s":8,"h":6},{"d":"2024-06-13","m":10,"s":10,"h":0},{"d":"2024-06-17","m":4,"s":9,"h":-5},{"d":"2024-06-21","m":-2,"s":6,"h":-8},{"d":"2024-06-25","m":-7,"s":2,"h":-9},{"d":"2024-06-29","m":-8,"s":-2,"h":-6},{"d":"2024-07-03","m":-12,"s":-6,"h":-6},{"d":"2024-07-07","m":-18,"s":-11,"h":-7},{"d":"2024-07-11","m":-16,"s":-14,"h":-2},{"d":"2024-07-15","m":-6,"s":-12,"h":6},{"d":"2024-07-19","m":2,"s":-7,"h":9},{"d":"2024-07-23","m":5,"s":-2,"h":7},{"d":"2024-07-27","m":5,"s":2,"h":3},{"d":"2024-07-31","m":5,"s":4,"h":1},{"d":"2024-08-04","m":-6,"s":1,"h":-7},{"d":"2024-08-08","m":-15,"s":-5,"h":-10},{"d":"2024-08-12","m":-14,"s":-10,"h":-4},{"d":"2024-08-16","m":-10,"s":-11,"h":1},{"d":"2024-08-20","m":-3,"s":-8,"h":5},{"d":"2024-08-24","m":8,"s":-2,"h":10},{"d":"2024-08-28","m":6,"s":3,"h":3},{"d":"2024-09-01","m":2,"s":4,"h":-2},{"d":"2024-09-05","m":-4,"s":1,"h":-5},{"d":"2024-09-09","m":-5,"s":-2,"h":-3},{"d":"2024-09-13","m":-2,"s":-3,"h":1},{"d":"2024-09-17","m":4,"s":-1,"h":5},{"d":"2024-09-21","m":10,"s":4,"h":6},{"d":"2024-09-25","m":14,"s":9,"h":5},{"d":"2024-09-29","m":13,"s":12,"h":1},{"d":"2024-10-03","m":5,"s":10,"h":-5},{"d":"2024-10-07","m":3,"s":6,"h":-3},{"d":"2024-10-11","m":2,"s":4,"h":-2},{"d":"2024-10-15","m":5,"s":3,"h":2},{"d":"2024-10-19","m":6,"s":5,"h":1},{"d":"2024-10-23","m":5,"s":5,"h":0},{"d":"2024-10-27","m":1,"s":4,"h":-3},{"d":"2024-10-31","m":1,"s":2,"h":-1},{"d":"2024-11-04","m":-3,"s":0,"h":-3},{"d":"2024-11-08","m":2,"s":0,"h":2},{"d":"2024-11-12","m":10,"s":4,"h":6},{"d":"2024-11-16","m":10,"s":7,"h":3},{"d":"2024-11-20","m":8,"s":8,"h":0},{"d":"2024-11-24","m":13,"s":10,"h":3},{"d":"2024-11-28","m":13,"s":12,"h":1},{"d":"2024-12-02","m":15,"s":13,"h":2},{"d":"2024-12-06","m":28,"s":17,"h":11},{"d":"2024-12-10","m":28,"s":23,"h":5},{"d":"2024-12-14","m":22,"s":24,"h":-2},{"d":"2024-12-18","m":16,"s":22,"h":-6},{"d":"2024-12-22","m":7,"s":15,"h":-8},{"d":"2024-12-26","m":8,"s":11,"h":-3},{"d":"2024-12-30","m":8,"s":9,"h":-1},{"d":"2025-01-03","m":9,"s":9,"h":0},{"d":"2025-01-07","m":6,"s":8,"h":-2},{"d":"2025-01-11","m":1,"s":6,"h":-5},{"d":"2025-01-15","m":3,"s":4,"h":-1},{"d":"2025-01-19","m":4,"s":4,"h":0},{"d":"2025-01-23","m":0,"s":2,"h":-2},{"d":"2025-01-27","m":-2,"s":1,"h":-3},{"d":"2025-01-31","m":-4,"s":-1,"h":-3},{"d":"2025-02-04","m":-18,"s":-7,"h":-11},{"d":"2025-02-08","m":-23,"s":-14,"h":-9},{"d":"2025-02-12","m":-10,"s":-15,"h":5},{"d":"2025-02-16","m":4,"s":-8,"h":12},{"d":"2025-02-20","m":3,"s":-2,"h":5},{"d":"2025-02-24","m":1,"s":0,"h":1},{"d":"2025-02-28","m":-4,"s":-1,"h":-3},{"d":"2025-03-04","m":-5,"s":-3,"h":-2},{"d":"2025-03-08","m":-8,"s":-5,"h":-3},{"d":"2025-03-12","m":-16,"s":-9,"h":-7},{"d":"2025-03-16","m":-6,"s":-10,"h":4},{"d":"2025-03-20","m":2,"s":-5,"h":7},{"d":"2025-03-24","m":5,"s":-1,"h":6},{"d":"2025-03-28","m":2,"s":2,"h":0},{"d":"2025-04-01","m":1,"s":2,"h":-1},{"d":"2025-04-05","m":-3,"s":0,"h":-3},{"d":"2025-04-09","m":-7,"s":-3,"h":-4},{"d":"2025-04-13","m":-5,"s":-5,"h":0},{"d":"2025-04-17","m":-3,"s":-5,"h":2},{"d":"2025-04-21","m":0,"s":-3,"h":3},{"d":"2025-04-25","m":1,"s":-1,"h":2},{"d":"2025-04-29","m":0,"s":0,"h":0},{"d":"2025-05-03","m":-1,"s":0,"h":-1},{"d":"2025-05-07","m":0,"s":0,"h":0},{"d":"2025-05-11","m":12,"s":4,"h":8},{"d":"2025-05-15","m":14,"s":9,"h":5},{"d":"2025-05-19","m":13,"s":11,"h":2},{"d":"2025-05-23","m":15,"s":12,"h":3},{"d":"2025-05-27","m":13,"s":13,"h":0},{"d":"2025-05-31","m":10,"s":12,"h":-2},{"d":"2025-06-04","m":8,"s":10,"h":-2},{"d":"2025-06-08","m":7,"s":8,"h":-1},{"d":"2025-06-12","m":3,"s":6,"h":-3},{"d":"2025-06-16","m":-1,"s":3,"h":-4},{"d":"2025-06-20","m":-4,"s":0,"h":-4},{"d":"2025-06-24","m":-3,"s":-2,"h":-1},{"d":"2025-06-28","m":0,"s":-1,"h":1},{"d":"2025-07-02","m":2,"s":0,"h":2},{"d":"2025-07-06","m":3,"s":2,"h":1},{"d":"2025-07-10","m":10,"s":5,"h":5},{"d":"2025-07-14","m":15,"s":9,"h":6},{"d":"2025-07-18","m":24,"s":15,"h":9},{"d":"2025-07-22","m":28,"s":21,"h":7},{"d":"2025-07-26","m":36,"s":28,"h":8},{"d":"2025-07-30","m":33,"s":31,"h":2},{"d":"2025-08-03","m":21,"s":28,"h":-7},{"d":"2025-08-07","m":18,"s":23,"h":-5},{"d":"2025-08-11","m":20,"s":20,"h":0},{"d":"2025-08-14","m":26.8,"s":21.7,"h":5.1}],
"tags":[{"k":"close","v":861.6,"t":"861.6"},{"k":"sma21","v":795.6,"t":"795.6"},{"k":"sma200","v":652.9,"t":"652.9"}],
"tagsRsi":[{"k":"rsi","v":72.51,"t":"72.51"},{"k":"rsima","v":59.17,"t":"59.17"}],
"tagsMacd":[{"k":"sig","v":21.7,"t":"21.7"},{"k":"hist","v":5.1,"t":"5.1"}]
},
"vconcat":[
{"width":1024,"height":274,
"resolve":{"axis":{"y":"independent"}},
"layer":[
{"data":{"name":"candles"},"mark":{"type":"rule","strokeWidth":1},
 "encoding":{"x":{"field":"d","type":"temporal","scale":{"type":"utc","domain":[{"year":2024,"month":5,"date":25,"hours":18,"utc":true},{"year":2025,"month":9,"date":29,"hours":10,"utc":true}],"nice":false},"axis":null},
 "y":{"field":"l","type":"quantitative","title":null,"scale":{"domain":[390.2,929.5],"nice":false,"zero":false},"axis":{"orient":"right","offset":-34,"values":[400,450,500,550,600,700,750,900],"format":".1f","labelFontSize":9.2,"labelColor":"#131722","labelPadding":2,"labelOverlap":false,"ticks":false,"tickSize":0,"domain":false,"grid":false,"title":null,"labelFlush":false}},
 "y2":{"field":"h"},
 "color":{"condition":{"test":"datum.c >= datum.o","value":"#22ab94"},"value":"#f23645"}}},
{"data":{"name":"candles"},"mark":{"type":"bar","width":1.6},
 "encoding":{"x":{"field":"d","type":"temporal","axis":null},"y":{"field":"o","type":"quantitative","axis":null},"y2":{"field":"c"},
 "color":{"condition":{"test":"datum.c >= datum.o","value":"#22ab94"},"value":"#f23645"}}},
{"data":{"values":[{"v":861.6}]},"mark":{"type":"rule","color":"#089981","strokeDash":[1,2],"strokeWidth":1},
 "encoding":{"x":{"datum":{"year":2024,"month":5,"date":25,"hours":18,"utc":true},"type":"temporal","axis":null},"x2":{"datum":{"year":2025,"month":9,"date":11,"hours":2,"utc":true}},"y":{"field":"v","type":"quantitative","axis":null}}},
{"data":{"name":"sma200"},"mark":{"type":"line","color":"#3358d4","strokeWidth":1.8,"interpolate":"monotone"},
 "encoding":{"x":{"field":"d","type":"temporal","axis":null},"y":{"field":"v","type":"quantitative","axis":null}}},
{"data":{"name":"sma21"},"mark":{"type":"line","color":"#3fcf3f","strokeWidth":1.8,"interpolate":"monotone"},
 "encoding":{"x":{"field":"d","type":"temporal","axis":null},"y":{"field":"v","type":"quantitative","axis":null}}},
{"data":{"name":"trend"},"transform":[{"filter":"datum.line == 'res'"}],"mark":{"type":"line","color":"#f7a13b","strokeWidth":2},
 "encoding":{"x":{"field":"d","type":"temporal","axis":null},"y":{"field":"p","type":"quantitative","axis":null}}},
{"data":{"name":"trend"},"transform":[{"filter":"datum.line == 'chU' || datum.line == 'chL'"}],"mark":{"type":"line","color":"#9e9e9e","strokeWidth":1.5},
 "encoding":{"x":{"field":"d","type":"temporal","axis":null},"y":{"field":"p","type":"quantitative","axis":null},"detail":{"field":"line"}}},
{"data":{"name":"trend"},"transform":[{"filter":"datum.line == 'h1' || datum.line == 'h2'"}],"mark":{"type":"line","color":"#8e8a85","strokeWidth":1.3},
 "encoding":{"x":{"field":"d","type":"temporal","axis":null},"y":{"field":"p","type":"quantitative","axis":null},"detail":{"field":"line"}}},
{"data":{"name":"trend"},"transform":[{"filter":"datum.line == 'sup'"}],"mark":{"type":"line","color":"#262626","strokeWidth":1},
 "encoding":{"x":{"field":"d","type":"temporal","axis":null},"y":{"field":"p","type":"quantitative","axis":null}}},
{"data":{"values":[{"t":"21-day SMA"}]},"mark":{"type":"text","align":"left","baseline":"middle","fontSize":9.8,"color":"#3fbf3f"},
 "encoding":{"x":{"datum":{"year":2025,"month":8,"date":15,"hours":5,"utc":true},"type":"temporal","axis":null},"y":{"datum":803.5,"type":"quantitative","axis":null},"text":{"field":"t"}}},
{"data":{"values":[{"t":"200-day SMA"}]},"mark":{"type":"text","align":"left","baseline":"middle","fontSize":9.8,"color":"#3f63d6"},
 "encoding":{"x":{"datum":{"year":2025,"month":8,"date":3,"hours":17,"utc":true},"type":"temporal","axis":null},"y":{"datum":634,"type":"quantitative","axis":null},"text":{"field":"t"}}},
{"data":{"values":[{"t":"Binance Coin / US Dollar · 1D · BINANCE"}]},"mark":{"type":"text","align":"left","baseline":"middle","fontSize":9.5,"color":"#131722"},
 "encoding":{"x":{"datum":{"year":2024,"month":5,"date":31,"hours":12,"utc":true},"type":"temporal","axis":null},"y":{"datum":900,"type":"quantitative","axis":null},"text":{"field":"t"}}},
{"data":{"values":[{"t":"O"}]},"mark":{"type":"text","align":"left","baseline":"middle","fontSize":9.5,"color":"#131722"},
 "encoding":{"x":{"datum":{"year":2024,"month":8,"date":26,"hours":10,"utc":true},"type":"temporal","axis":null},"y":{"datum":900,"type":"quantitative","axis":null},"text":{"field":"t"}}},
{"data":{"values":[{"t":"847.5"}]},"mark":{"type":"text","align":"left","baseline":"middle","fontSize":9.5,"color":"#089981"},
 "encoding":{"x":{"datum":{"year":2024,"month":8,"date":30,"hours":0,"utc":true},"type":"temporal","axis":null},"y":{"datum":900,"type":"quantitative","axis":null},"text":{"field":"t"}}},
{"data":{"values":[{"t":"H"}]},"mark":{"type":"text","align":"left","baseline":"middle","fontSize":9.5,"color":"#131722"},
 "encoding":{"x":{"datum":{"year":2024,"month":9,"date":12,"hours":5,"utc":true},"type":"temporal","axis":null},"y":{"datum":900,"type":"quantitative","axis":null},"text":{"field":"t"}}},
{"data":{"values":[{"t":"869.2"}]},"mark":{"type":"text","align":"left","baseline":"middle","fontSize":9.5,"color":"#089981"},
 "encoding":{"x":{"datum":{"year":2024,"month":9,"date":15,"hours":19,"utc":true},"type":"temporal","axis":null},"y":{"datum":900,"type":"quantitative","axis":null},"text":{"field":"t"}}},
{"data":{"values":[{"t":"L"}]},"mark":{"type":"text","align":"left","baseline":"middle","fontSize":9.5,"color":"#131722"},
 "encoding":{"x":{"datum":{"year":2024,"month":9,"date":27,"hours":7,"utc":true},"type":"temporal","axis":null},"y":{"datum":900,"type":"quantitative","axis":null},"text":{"field":"t"}}},
{"data":{"values":[{"t":"843.0"}]},"mark":{"type":"text","align":"left","baseline":"middle","fontSize":9.5,"color":"#089981"},
 "encoding":{"x":{"datum":{"year":2024,"month":9,"date":30,"hours":5,"utc":true},"type":"temporal","axis":null},"y":{"datum":900,"type":"quantitative","axis":null},"text":{"field":"t"}}},
{"data":{"values":[{"t":"C"}]},"mark":{"type":"text","align":"left","baseline":"middle","fontSize":9.5,"color":"#131722"},
 "encoding":{"x":{"datum":{"year":2024,"month":10,"date":12,"hours":22,"utc":true},"type":"temporal","axis":null},"y":{"datum":900,"type":"quantitative","axis":null},"text":{"field":"t"}}},
{"data":{"values":[{"t":"861.6"}]},"mark":{"type":"text","align":"left","baseline":"middle","fontSize":9.5,"color":"#089981"},
 "encoding":{"x":{"datum":{"year":2024,"month":10,"date":16,"hours":12,"utc":true},"type":"temporal","axis":null},"y":{"datum":900,"type":"quantitative","axis":null},"text":{"field":"t"}}},
{"data":{"values":[{"t":"+14.0 (+1.65%)"}]},"mark":{"type":"text","align":"left","baseline":"middle","fontSize":9.5,"color":"#089981"},
 "encoding":{"x":{"datum":{"year":2024,"month":10,"date":29,"hours":17,"utc":true},"type":"temporal","axis":null},"y":{"datum":900,"type":"quantitative","axis":null},"text":{"field":"t"}}},
{"data":{"values":[{"t":"SMA (200, close)"}]},"mark":{"type":"text","align":"left","baseline":"middle","fontSize":9.2,"color":"#131722"},
 "encoding":{"x":{"datum":{"year":2024,"month":5,"date":31,"hours":12,"utc":true},"type":"temporal","axis":null},"y":{"datum":872.4,"type":"quantitative","axis":null},"text":{"field":"t"}}},
{"data":{"values":[{"t":"652.9"}]},"mark":{"type":"text","align":"left","baseline":"middle","fontSize":9.2,"color":"#2962ff"},
 "encoding":{"x":{"datum":{"year":2024,"month":7,"date":7,"hours":12,"utc":true},"type":"temporal","axis":null},"y":{"datum":872.4,"type":"quantitative","axis":null},"text":{"field":"t"}}},
{"data":{"values":[{"t":"SMA (21, close)"}]},"mark":{"type":"text","align":"left","baseline":"middle","fontSize":9.2,"color":"#131722"},
 "encoding":{"x":{"datum":{"year":2024,"month":5,"date":31,"hours":12,"utc":true},"type":"temporal","axis":null},"y":{"datum":844.9,"type":"quantitative","axis":null},"text":{"field":"t"}}},
{"data":{"values":[{"t":"795.6"}]},"mark":{"type":"text","align":"left","baseline":"middle","fontSize":9.2,"color":"#2ecc40"},
 "encoding":{"x":{"datum":{"year":2024,"month":7,"date":4,"hours":20,"utc":true},"type":"temporal","axis":null},"y":{"datum":844.9,"type":"quantitative","axis":null},"text":{"field":"t"}}},
{"data":{"name":"tags"},"mark":{"type":"rect","yOffset":-6,"y2Offset":6},
 "encoding":{"x":{"datum":{"year":2025,"month":9,"date":11,"hours":14,"utc":true},"type":"temporal","axis":null},"x2":{"datum":{"year":2025,"month":9,"date":27,"hours":10,"utc":true}},"y":{"field":"v","type":"quantitative","axis":null},"y2":{"field":"v"},
 "color":{"field":"k","type":"nominal","legend":null,"scale":{"domain":["close","sma21","sma200","rsi","rsima","sig","hist"],"range":["#089981","#1fe01f","#2962ff","#7e57c2","#fdd835","#ff6d00","#26a69a"]}}}},
{"data":{"name":"tags"},"mark":{"type":"text","align":"center","baseline":"middle","fontSize":9.2},
 "encoding":{"x":{"datum":{"year":2025,"month":9,"date":19,"hours":12,"utc":true},"type":"temporal","axis":null},"y":{"field":"v","type":"quantitative","axis":null},"text":{"field":"t"},
 "color":{"condition":{"test":"datum.k == 'sma21'","value":"#131722"},"value":"#ffffff"}}}
]},
{"width":1024,"height":30,
"layer":[
{"data":{"values":[{"t":"band"}]},"mark":{"type":"rect","color":"#7e57c2","opacity":0.08},
 "encoding":{"x":{"datum":{"year":2024,"month":5,"date":25,"hours":18,"utc":true},"type":"temporal","scale":{"type":"utc","domain":[{"year":2024,"month":5,"date":25,"hours":18,"utc":true},{"year":2025,"month":9,"date":29,"hours":10,"utc":true}],"nice":false},"axis":null},"x2":{"datum":{"year":2025,"month":9,"date":11,"hours":2,"utc":true}},
 "y":{"datum":70,"type":"quantitative","scale":{"domain":[20,95],"nice":false,"zero":false},"axis":null},"y2":{"datum":30}}},
{"data":{"values":[{"v":95}]},"mark":{"type":"rule","color":"#e0e3eb","strokeWidth":1},
 "encoding":{"x":{"datum":{"year":2024,"month":5,"date":25,"hours":18,"utc":true},"type":"temporal","axis":null},"x2":{"datum":{"year":2025,"month":9,"date":29,"hours":10,"utc":true}},"y":{"field":"v","type":"quantitative","axis":null}}},
{"data":{"values":[{"v":70},{"v":50},{"v":30}]},"mark":{"type":"rule","color":"#9598a1","strokeDash":[4,3],"strokeWidth":1},
 "encoding":{"x":{"datum":{"year":2024,"month":5,"date":25,"hours":18,"utc":true},"type":"temporal","axis":null},"x2":{"datum":{"year":2025,"month":9,"date":11,"hours":2,"utc":true}},"y":{"field":"v","type":"quantitative","axis":null}}},
{"data":{"name":"rsima"},"mark":{"type":"line","color":"#f5c542","strokeWidth":1,"interpolate":"monotone"},
 "encoding":{"x":{"field":"d","type":"temporal","axis":null},"y":{"field":"v","type":"quantitative","axis":null}}},
{"data":{"name":"rsi"},"mark":{"type":"line","color":"#7e57c2","strokeWidth":1},
 "encoding":{"x":{"field":"d","type":"temporal","axis":null},"y":{"field":"v","type":"quantitative","axis":null}}},
{"data":{"values":[{"t":"RSI (14, close)"}]},"mark":{"type":"text","align":"left","baseline":"middle","fontSize":9.2,"color":"#131722"},
 "encoding":{"x":{"datum":{"year":2024,"month":6,"date":1,"hours":0,"utc":true},"type":"temporal","axis":null},"y":{"datum":65,"type":"quantitative","axis":null},"text":{"field":"t"}}},
{"data":{"values":[{"t":"72.51"}]},"mark":{"type":"text","align":"left","baseline":"middle","fontSize":9.2,"color":"#7e57c2"},
 "encoding":{"x":{"datum":{"year":2024,"month":7,"date":2,"hours":5,"utc":true},"type":"temporal","axis":null},"y":{"datum":65,"type":"quantitative","axis":null},"text":{"field":"t"}}},
{"data":{"values":[{"t":"59.17"}]},"mark":{"type":"text","align":"left","baseline":"middle","fontSize":9.2,"color":"#e6b800"},
 "encoding":{"x":{"datum":{"year":2024,"month":7,"date":18,"hours":12,"utc":true},"type":"temporal","axis":null},"y":{"datum":65,"type":"quantitative","axis":null},"text":{"field":"t"}}},
{"data":{"name":"tagsRsi"},"transform":[{"filter":"datum.k == 'rsi'"}],"mark":{"type":"rect","yOffset":-5,"y2Offset":6},
 "encoding":{"x":{"datum":{"year":2025,"month":9,"date":11,"hours":14,"utc":true},"type":"temporal","axis":null},"x2":{"datum":{"year":2025,"month":9,"date":27,"hours":10,"utc":true}},"y":{"field":"v","type":"quantitative","axis":null},"y2":{"field":"v"},
 "color":{"field":"k","type":"nominal","legend":null,"scale":{"domain":["close","sma21","sma200","rsi","rsima","sig","hist"],"range":["#089981","#1fe01f","#2962ff","#7e57c2","#fdd835","#ff6d00","#26a69a"]}}}},
{"data":{"name":"tagsRsi"},"transform":[{"filter":"datum.k == 'rsima'"}],"mark":{"type":"rect","yOffset":3,"y2Offset":14},
 "encoding":{"x":{"datum":{"year":2025,"month":9,"date":11,"hours":14,"utc":true},"type":"temporal","axis":null},"x2":{"datum":{"year":2025,"month":9,"date":27,"hours":10,"utc":true}},"y":{"field":"v","type":"quantitative","axis":null},"y2":{"field":"v"},
 "color":{"field":"k","type":"nominal","legend":null,"scale":{"domain":["close","sma21","sma200","rsi","rsima","sig","hist"],"range":["#089981","#1fe01f","#2962ff","#7e57c2","#fdd835","#ff6d00","#26a69a"]}}}},
{"data":{"name":"tagsRsi"},"transform":[{"filter":"datum.k == 'rsi'"}],"mark":{"type":"text","align":"center","baseline":"middle","fontSize":9.2,"color":"#ffffff","dy":0.5},
 "encoding":{"x":{"datum":{"year":2025,"month":9,"date":19,"hours":12,"utc":true},"type":"temporal","axis":null},"y":{"field":"v","type":"quantitative","axis":null},"text":{"field":"t"}}},
{"data":{"name":"tagsRsi"},"transform":[{"filter":"datum.k == 'rsima'"}],"mark":{"type":"text","align":"center","baseline":"middle","fontSize":9.2,"color":"#131722","dy":8.5},
 "encoding":{"x":{"datum":{"year":2025,"month":9,"date":19,"hours":12,"utc":true},"type":"temporal","axis":null},"y":{"field":"v","type":"quantitative","axis":null},"text":{"field":"t"}}}
]},
{"width":1024,"height":42,
"layer":[
{"data":{"name":"macd"},"mark":{"type":"bar","width":1.6,"opacity":0.75},
 "encoding":{"x":{"field":"d","type":"temporal","title":null,"scale":{"type":"utc","domain":[{"year":2024,"month":5,"date":25,"hours":18,"utc":true},{"year":2025,"month":9,"date":29,"hours":10,"utc":true}],"nice":false},
 "axis":{"orient":"bottom","values":[{"year":2024,"month":6,"date":1,"utc":true},{"year":2024,"month":7,"date":1,"utc":true},{"year":2024,"month":8,"date":1,"utc":true},{"year":2024,"month":9,"date":1,"utc":true},{"year":2024,"month":10,"date":1,"utc":true},{"year":2024,"month":11,"date":1,"utc":true},{"year":2024,"month":12,"date":1,"utc":true},{"year":2025,"month":1,"date":1,"utc":true},{"year":2025,"month":2,"date":1,"utc":true},{"year":2025,"month":3,"date":1,"utc":true},{"year":2025,"month":4,"date":1,"utc":true},{"year":2025,"month":5,"date":1,"utc":true},{"year":2025,"month":6,"date":1,"utc":true},{"year":2025,"month":7,"date":1,"utc":true},{"year":2025,"month":8,"date":1,"utc":true},{"year":2025,"month":9,"date":1,"utc":true}],"labelExpr":"utcmonth(datum.value) == 0 ? utcFormat(datum.value, '%Y') : utcFormat(datum.value, '%b')","labelFontWeight":{"condition":{"test":"utcmonth(datum.value) == 0","value":"bold"},"value":"normal"},"labelFontSize":9.2,"labelColor":"#131722","labelPadding":6,"labelOverlap":false,"ticks":false,"tickSize":0,"domain":false,"grid":false,"title":null,"labelFlush":false}},
 "y":{"field":"h","type":"quantitative","scale":{"domain":[-28.8,46.8],"nice":false,"zero":false},"axis":null},"y2":{"datum":0},
 "color":{"condition":{"test":"datum.h >= 0","value":"#26a69a"},"value":"#ef5350"}}},
{"data":{"values":[{"v":46.8},{"v":-28.8}]},"mark":{"type":"rule","color":"#e0e3eb","strokeWidth":1},
 "encoding":{"x":{"datum":{"year":2024,"month":5,"date":25,"hours":18,"utc":true},"type":"temporal","title":null},"x2":{"datum":{"year":2025,"month":9,"date":29,"hours":10,"utc":true}},"y":{"field":"v","type":"quantitative","axis":null}}},
{"data":{"values":[{"v":0}]},"mark":{"type":"rule","color":"#9598a1","strokeDash":[4,3],"strokeWidth":1},
 "encoding":{"x":{"datum":{"year":2024,"month":5,"date":25,"hours":18,"utc":true},"type":"temporal","title":null},"x2":{"datum":{"year":2025,"month":9,"date":11,"hours":2,"utc":true}},"y":{"field":"v","type":"quantitative","axis":null}}},
{"data":{"name":"macd"},"mark":{"type":"line","color":"#ff6d00","strokeWidth":1,"interpolate":"monotone"},
 "encoding":{"x":{"field":"d","type":"temporal","title":null},"y":{"field":"s","type":"quantitative","axis":null}}},
{"data":{"name":"macd"},"mark":{"type":"line","color":"#2962ff","strokeWidth":1,"interpolate":"monotone"},
 "encoding":{"x":{"field":"d","type":"temporal","title":null},"y":{"field":"m","type":"quantitative","axis":null}}},
{"data":{"values":[{"t":"MACD (12, 26, close)"}]},"mark":{"type":"text","align":"left","baseline":"middle","fontSize":9.2,"color":"#131722"},
 "encoding":{"x":{"datum":{"year":2024,"month":5,"date":31,"hours":12,"utc":true},"type":"temporal","title":null},"y":{"datum":19.8,"type":"quantitative","axis":null},"text":{"field":"t"}}},
{"data":{"values":[{"t":"5.1"}]},"mark":{"type":"text","align":"left","baseline":"middle","fontSize":9.2,"color":"#26a69a"},
 "encoding":{"x":{"datum":{"year":2024,"month":7,"date":16,"hours":2,"utc":true},"type":"temporal","title":null},"y":{"datum":19.8,"type":"quantitative","axis":null},"text":{"field":"t"}}},
{"data":{"values":[{"t":"26.8"}]},"mark":{"type":"text","align":"left","baseline":"middle","fontSize":9.2,"color":"#2962ff"},
 "encoding":{"x":{"datum":{"year":2024,"month":7,"date":25,"hours":6,"utc":true},"type":"temporal","title":null},"y":{"datum":19.8,"type":"quantitative","axis":null},"text":{"field":"t"}}},
{"data":{"values":[{"t":"21.7"}]},"mark":{"type":"text","align":"left","baseline":"middle","fontSize":9.2,"color":"#ff6d00"},
 "encoding":{"x":{"datum":{"year":2024,"month":8,"date":6,"hours":17,"utc":true},"type":"temporal","title":null},"y":{"datum":19.8,"type":"quantitative","axis":null},"text":{"field":"t"}}},
{"data":{"name":"tagsMacd"},"transform":[{"filter":"datum.k == 'sig'"}],"mark":{"type":"rect","yOffset":-11,"y2Offset":1},
 "encoding":{"x":{"datum":{"year":2025,"month":9,"date":11,"hours":14,"utc":true},"type":"temporal","title":null},"x2":{"datum":{"year":2025,"month":9,"date":25,"hours":10,"utc":true}},"y":{"field":"v","type":"quantitative","axis":null},"y2":{"field":"v"},
 "color":{"field":"k","type":"nominal","legend":null,"scale":{"domain":["close","sma21","sma200","rsi","rsima","sig","hist"],"range":["#089981","#1fe01f","#2962ff","#7e57c2","#fdd835","#ff6d00","#26a69a"]}}}},
{"data":{"name":"tagsMacd"},"transform":[{"filter":"datum.k == 'hist'"}],"mark":{"type":"rect","yOffset":-5,"y2Offset":7},
 "encoding":{"x":{"datum":{"year":2025,"month":9,"date":11,"hours":14,"utc":true},"type":"temporal","title":null},"x2":{"datum":{"year":2025,"month":9,"date":22,"hours":10,"utc":true}},"y":{"field":"v","type":"quantitative","axis":null},"y2":{"field":"v"},
 "color":{"field":"k","type":"nominal","legend":null,"scale":{"domain":["close","sma21","sma200","rsi","rsima","sig","hist"],"range":["#089981","#1fe01f","#2962ff","#7e57c2","#fdd835","#ff6d00","#26a69a"]}}}},
{"data":{"name":"tagsMacd"},"transform":[{"filter":"datum.k == 'sig'"}],"mark":{"type":"text","align":"center","baseline":"middle","fontSize":9.2,"color":"#ffffff","dy":-5},
 "encoding":{"x":{"datum":{"year":2025,"month":9,"date":18,"hours":12,"utc":true},"type":"temporal","title":null},"y":{"field":"v","type":"quantitative","axis":null},"text":{"field":"t"}}},
{"data":{"name":"tagsMacd"},"transform":[{"filter":"datum.k == 'hist'"}],"mark":{"type":"text","align":"center","baseline":"middle","fontSize":9.2,"color":"#ffffff","dy":1},
 "encoding":{"x":{"datum":{"year":2025,"month":9,"date":16,"hours":22,"utc":true},"type":"temporal","title":null},"y":{"field":"v","type":"quantitative","axis":null},"text":{"field":"t"}}}
]}
]
}
